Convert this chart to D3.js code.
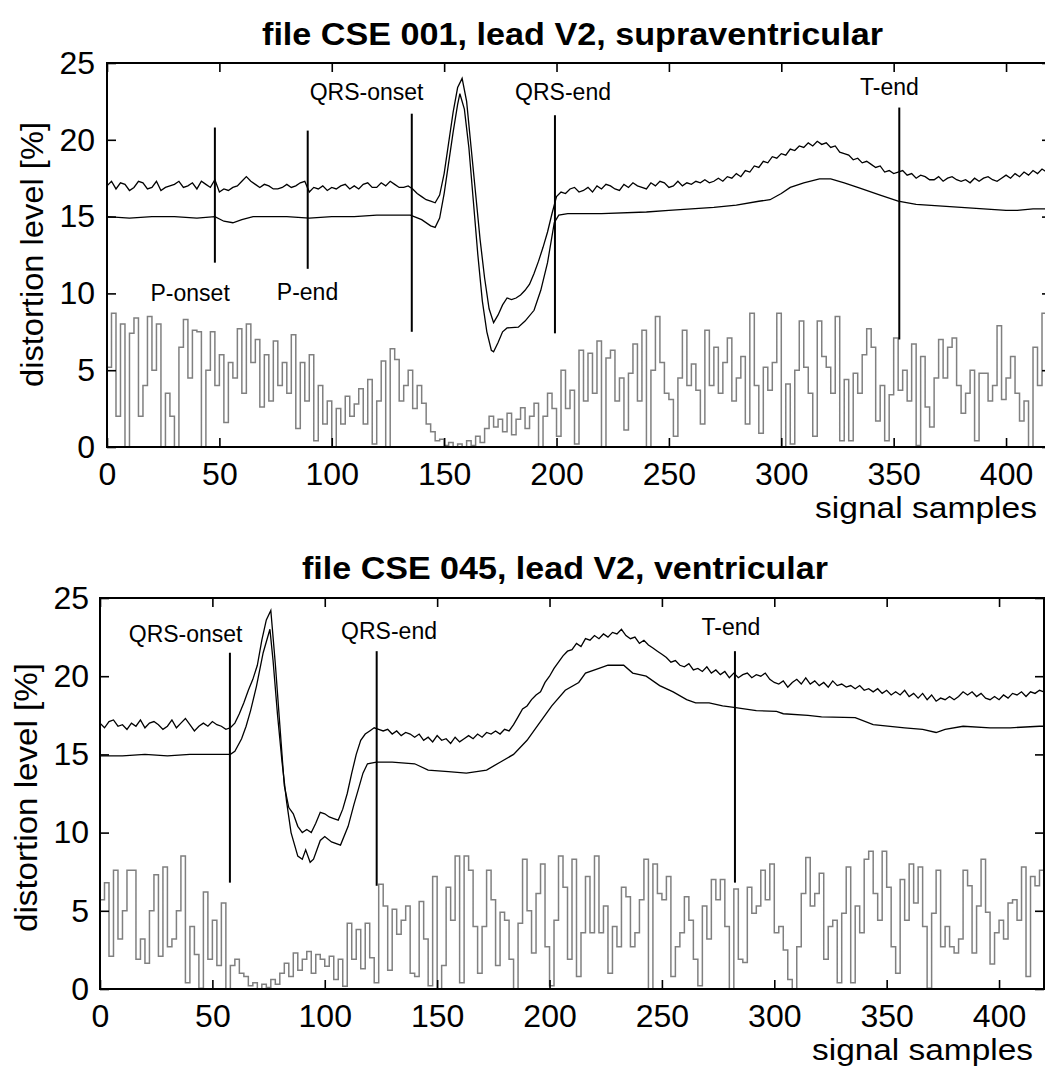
<!DOCTYPE html>
<html>
<head>
<meta charset="utf-8">
<script src="https://cdn.jsdelivr.net/npm/d3@7/dist/d3.min.js"></script>
<style>
  html, body { margin: 0; padding: 0; background: #fff; }
  svg { display: block; }
</style>
</head>
<body>
<div id="chart"></div>
<script>
// samples are read every 2nd signal sample
const STEP = 2;
const X_TICKS = [0, 50, 100, 150, 200, 250, 300, 350, 400];
const Y_TICKS = [0, 5, 10, 15, 20, 25];

// ---- file CSE 001 ----
const upper1 = [
  17.0,17.3,16.8,17.2,17.1,16.7,16.9,17.3,17.2,16.8,
  16.9,17.3,16.7,16.9,17.0,17.1,17.3,16.9,17.0,17.2,
  16.8,17.3,17.1,16.9,17.4,16.6,16.8,16.7,16.9,17.0,
  17.3,17.6,17.3,17.1,16.9,17.1,17.0,16.8,16.8,16.9,
  17.1,16.9,17.0,17.2,17.3,16.6,16.9,16.8,17.0,16.7,
  16.9,16.8,17.0,17.1,16.8,17.0,16.8,17.1,17.2,16.9,
  16.9,17.2,17.0,17.3,17.1,16.9,16.9,17.0,16.8,16.5,
  16.3,16.1,16.0,15.9,16.4,17.8,19.8,21.8,23.4,24.0,
  22.5,19.5,16.5,13.5,11.0,9.0,8.1,8.6,9.25,9.7,
  9.6,9.7,9.9,10.2,10.6,11.3,12.1,13.0,14.0,15.2,
  16.3,16.6,16.5,16.8,16.9,16.6,16.7,16.9,16.6,17.0,
  16.8,17.1,17.0,16.8,16.7,17.1,16.9,17.2,17.0,16.9,
  16.8,17.2,17.0,17.3,17.2,16.9,17.0,17.3,17.0,17.2,
  17.1,17.3,17.2,17.4,17.2,17.3,17.5,17.3,17.6,17.5,
  17.8,17.6,18.0,17.9,18.3,18.2,18.6,18.5,18.9,18.8,
  19.1,19.0,19.4,19.3,19.6,19.5,19.8,19.6,19.9,19.7,
  19.8,19.5,19.6,19.2,19.1,19.0,18.7,18.8,18.5,18.6,
  18.4,18.2,18.3,17.9,18.0,17.8,17.9,18.0,17.7,17.8,
  17.5,17.7,17.6,17.4,17.4,17.6,17.3,17.5,17.6,17.4,
  17.3,17.4,17.2,17.5,17.3,17.5,17.6,17.4,17.3,17.5,
  17.7,17.5,17.8,17.6,17.9,17.7,18.0,17.8,18.1,17.9,
  18.0
];
// smooth curve: [sample, value]
const lower1 = [
  [0,15.0],[10,14.9],[20,15.0],[30,15.0],[40,14.9],[48,15.0],[52,14.7],[56,14.6],[60,14.8],
  [65,15.0],[80,15.0],[90,14.9],[100,15.0],[110,15.0],[120,15.1],[135,15.1],[140,14.8],
  [144,14.4],[146,14.3],[148,14.9],[150,16.5],[152,18.5],[154,20.5],[156,22.3],[157,23.0],
  [159,22.0],[161,19.5],[163,16.0],[165,12.5],[167,9.5],[169,7.5],[171,6.3],[172,6.2],
  [174,6.8],[176,7.5],[178,7.75],[183,7.8],[186,8.2],[190,8.9],[193,10.2],[196,12.0],
  [199,14.6],[201,15.1],[205,15.2],[220,15.2],[240,15.3],[250,15.4],[260,15.5],[270,15.6],
  [280,15.75],[290,16.0],[295,16.1],[300,16.5],[304,16.9],[310,17.2],[317,17.45],[322,17.45],
  [328,17.2],[334,16.9],[344,16.4],[352,16.0],[360,15.8],[370,15.7],[380,15.6],[390,15.5],
  [400,15.4],[405,15.4],[412,15.5],[420,15.5]
];
const noise1 = [
  5.2,8.7,2.0,8.0,0.0,7.4,8.4,2.0,4.0,8.5,
  5.0,8.0,0.0,3.5,2.0,0.0,6.5,8.3,4.5,7.6,
  7.5,0.0,5.0,7.5,4.0,6.0,1.6,5.5,4.5,7.7,
  3.5,8.0,5.5,7.0,2.6,6.0,3.0,6.9,4.0,5.5,
  3.5,7.3,1.2,5.5,3.0,6.0,0.4,4.0,1.5,3.0,
  0.0,2.5,1.5,3.3,2.0,2.8,3.8,1.5,4.4,0.2,
  3.0,5.6,0.0,6.4,5.7,3.0,4.0,5.0,2.5,4.0,
  2.85,1.5,1.0,0.4,0.5,0.1,0.3,0.0,0.2,0.0,
  0.4,0.1,0.7,0.3,1.2,2.0,1.3,1.8,1.0,2.2,
  0.8,1.8,2.55,1.2,2.0,2.85,0.0,2.0,3.5,2.5,
  0.7,5.0,2.5,3.7,0.2,6.3,3.0,6.1,3.5,6.9,
  0.0,5.8,6.3,3.0,4.5,1.1,4.8,6.7,3.0,7.6,
  0.0,5.0,8.5,5.5,3.5,3.1,0.7,4.5,7.6,4.0,
  5.4,3.7,1.5,7.6,4.0,6.5,3.5,5.5,7.1,3.0,
  4.5,5.9,1.5,8.7,4.0,0.9,5.2,3.7,5.5,8.7,
  0.0,4.1,0.2,5.0,8.2,5.2,3.5,0.7,8.2,5.9,
  5.2,3.5,8.5,0.4,4.4,0.4,4.8,3.5,6.0,7.7,
  6.5,1.7,4.0,0.4,3.4,7.1,3.7,5.0,3.0,6.7,
  0.1,5.9,2.6,1.3,4.5,7.0,4.5,6.5,7.1,4.0,
  2.2,3.5,5.0,0.4,4.8,4.8,3.0,4.0,7.9,3.1,
  4.5,5.9,3.5,1.7,3.0,0.0,6.5,4.0,8.7,6.5,
  5.0
];
// markers: sample, line from/to (%), label anchor (sample, %)
const marks1 = [
  { name: "P-onset",   at: 48,    from: 12.0, to: 20.8, lx: 37,    ly: 9.5 },
  { name: "P-end",     at: 89.3,  from: 11.6, to: 20.6, lx: 89.2,  ly: 9.6 },
  { name: "QRS-onset", at: 135.6, from: 7.5,  to: 21.7, lx: 115.5, ly: 22.6 },
  { name: "QRS-end",   at: 199.3, from: 7.4,  to: 21.6, lx: 202.9, ly: 22.6 },
  { name: "T-end",     at: 352.5, from: 7.0,  to: 22.1, lx: 348.1, ly: 22.9 }
];

// ---- file CSE 045 ----
const upper2 = [
  17.0,16.7,17.1,17.2,16.8,16.9,16.6,17.0,16.8,17.2,
  16.7,17.0,17.1,16.9,16.6,16.8,17.2,16.7,17.0,17.3,
  16.9,16.5,16.8,17.0,16.8,17.1,16.9,16.8,16.6,16.7,
  17.0,17.6,18.3,19.1,19.8,20.7,22.3,23.6,24.2,20.8,
  16.9,13.0,11.6,11.2,10.4,10.0,10.2,10.0,10.6,11.3,
  11.2,11.0,10.9,10.8,11.5,12.5,13.8,15.0,15.9,16.3,
  16.5,16.7,16.6,16.5,16.6,16.3,16.5,16.2,16.4,16.3,
  16.1,16.3,15.9,16.1,15.8,16.2,15.9,16.0,15.7,16.1,
  15.8,16.0,16.2,16.0,16.3,16.1,16.4,16.3,16.5,16.3,
  16.6,16.5,16.9,17.4,17.9,18.1,18.5,18.8,19.0,19.6,
  20.0,20.5,20.9,21.3,21.6,21.7,22.1,21.9,22.4,22.3,
  22.6,22.4,22.7,22.5,22.8,22.7,23.0,22.6,22.4,22.5,
  22.1,22.3,22.0,21.8,21.6,21.4,21.2,20.9,21.0,20.7,
  20.6,20.8,20.4,20.5,20.3,20.6,20.2,20.4,20.1,20.3,
  19.9,20.2,19.9,20.1,20.2,19.9,20.1,20.0,20.2,19.8,
  19.6,19.5,19.7,19.3,19.6,19.8,19.5,19.9,19.5,19.7,
  19.4,19.6,19.3,19.7,19.4,19.5,19.3,19.4,19.2,19.4,
  19.1,19.2,19.0,19.2,18.9,19.1,18.8,19.0,18.8,19.1,
  18.7,18.9,18.6,18.9,18.5,18.8,18.4,18.6,18.5,18.7,
  18.5,18.7,19.0,18.8,19.0,18.7,18.9,18.6,18.5,18.7,
  18.5,18.8,18.6,18.9,18.8,19.0,18.7,19.0,18.9,19.1,
  19.0
];
const lower2 = [
  [0,14.9],[10,14.9],[20,15.0],[30,14.9],[40,15.0],[50,15.0],[58,15.0],[60,15.2],[63,16.0],
  [65,16.8],[67,17.8],[69.6,19.35],[72.6,21.5],[75.6,23.0],[77,21.0],[79,17.5],[81,14.5],
  [83,12.0],[85,10.0],[88,8.5],[90,8.3],[91.5,8.9],[93.5,8.1],[95,8.3],[98,9.5],[100,9.75],
  [103,9.4],[107,9.2],[110.4,10.4],[113,11.8],[115,12.8],[117,13.8],[119,14.4],[123,14.5],
  [130,14.5],[140,14.4],[146,14.0],[155,13.9],[163,13.8],[172,14.0],[178,14.5],[184,15.0],
  [190,15.9],[195,16.9],[201,18.1],[207,19.1],[213,19.6],[216,20.2],[222,20.5],[226,20.7],
  [233,20.7],[237,20.2],[243,20.0],[249,19.4],[255,19.0],[261,18.5],[265,18.3],[271,18.3],
  [277,18.1],[282,18.0],[292,17.8],[301,17.75],[304,17.6],[315,17.5],[321,17.4],[336,17.35],
  [344,16.9],[358,16.7],[366,16.6],[372,16.4],[376,16.6],[384,16.8],[396,16.7],[405,16.7],
  [418,16.8],[420,16.8]
];
const noise2 = [
  5.7,6.8,2.1,7.6,3.2,5.0,7.6,7.6,1.9,3.2,
  1.65,5.0,7.3,2.1,7.8,2.7,3.2,5.0,8.5,0.4,
  4.0,2.2,0.05,6.2,1.9,4.4,1.5,5.5,0.0,1.5,
  1.9,1.0,0.8,0.2,0.4,0.0,0.3,0.1,0.6,0.3,
  1.0,1.65,0.8,2.3,1.2,1.9,2.4,1.0,2.2,1.9,
  1.45,2.1,0.6,1.9,0.17,4.2,1.9,3.8,1.3,4.2,
  2.0,0.4,6.7,5.3,1.2,5.1,3.5,4.4,5.3,1.0,
  0.8,5.6,3.2,0.2,7.2,0.0,1.5,6.5,4.4,8.5,
  0.4,8.5,7.6,4.0,1.0,4.0,7.6,5.7,1.5,4.9,
  4.4,1.9,0.0,4.2,8.3,5.0,2.3,6.1,8.0,2.7,
  0.2,4.4,8.5,6.5,1.9,8.3,0.8,3.6,7.2,3.6,
  8.5,3.6,5.3,1.0,4.0,2.7,6.5,5.9,2.7,3.6,
  5.7,8.3,0.0,8.0,6.1,5.7,7.2,0.8,2.7,3.6,
  5.9,4.4,1.9,0.2,5.3,3.2,7.0,5.7,7.0,4.0,
  0.0,6.4,1.9,1.7,6.5,4.85,5.3,7.6,5.7,8.0,
  3.6,4.0,2.5,0.6,0.0,2.7,6.1,8.4,5.3,6.1,
  7.4,1.9,4.0,4.4,0.4,4.85,7.8,0.4,5.3,3.6,
  8.3,8.8,6.1,4.4,8.8,6.5,2.7,1.0,7.0,4.4,
  8.0,5.5,7.8,4.0,0.05,4.85,7.6,2.7,4.0,2.7,
  2.3,3.2,7.6,6.6,2.3,5.3,8.3,4.9,1.6,3.6,
  4.4,3.2,5.5,5.7,4.4,7.8,0.8,7.2,6.6,7.6,
  6.0
];
const marks2 = [
  { name: "QRS-onset", at: 57.8,  from: 6.8, to: 21.5, lx: 38.1,  ly: 22.2 },
  { name: "QRS-end",   at: 123.1, from: 6.6, to: 21.6, lx: 128.6, ly: 22.4 },
  { name: "T-end",     at: 282.5, from: 6.8, to: 21.6, lx: 280.7, ly: 22.65 }
];

const titles = ["file CSE 001, lead V2, supraventricular", "file CSE 045, lead V2, ventricular"];

// layout of the two panels (pixels)
const LAYOUT = [
  { l: 107, r: 1051, t: 63, b: 447, title: [572.5, 45, 621], ylab: [43, 254.5, 265],
    xlab: [1037, 518, 222], yPad: 12, xPad: 15 },
  { l: 100, r: 1044, t: 598, b: 989, title: [565, 579, 526], ylab: [37, 797.5, 269],
    xlab: [1033, 1060, 221], yPad: 11, xPad: 15 }
];

const FONT = "'Liberation Sans', Arial, Helvetica, sans-serif";

const svg = d3.select("#chart").append("svg")
  .attr("width", 1045)
  .attr("height", 1066)
  .style("font-family", FONT);

function drawPanel(idx, upper, lower, noise, marks) {
  const L = LAYOUT[idx];
  const x = d3.scaleLinear().domain([0, 420]).range([L.l, L.r]);
  const y = d3.scaleLinear().domain([0, 25]).range([L.b, L.t]);

  const g = svg.append("g");

  g.append("clipPath").attr("id", "clip" + idx)
    .append("rect")
    .attr("x", L.l).attr("y", L.t - 2)
    .attr("width", L.r - L.l).attr("height", L.b - L.t + 2);

  const plot = g.append("g").attr("clip-path", "url(#clip" + idx + ")");

  const stepLine = d3.line()
    .x(function(d, i) { return x(i * STEP); })
    .y(function(d) { return y(d); });
  const stairs = d3.line()
    .curve(d3.curveStepAfter)
    .x(function(d, i) { return x(i * STEP); })
    .y(function(d) { return y(d); });
  const pairLine = d3.line()
    .x(function(d) { return x(d[0]); })
    .y(function(d) { return y(d[1]); });

  // gray distortion trace, drawn as stairs
  plot.append("path")
    .datum(noise)
    .attr("d", stairs)
    .attr("fill", "none")
    .attr("stroke", "#808080")
    .attr("stroke-width", 1.5);

  plot.append("path")
    .datum(upper)
    .attr("d", stepLine)
    .attr("fill", "none")
    .attr("stroke", "#000")
    .attr("stroke-width", 1.3);

  plot.append("path")
    .datum(lower)
    .attr("d", pairLine)
    .attr("fill", "none")
    .attr("stroke", "#000")
    .attr("stroke-width", 1.3);

  // markers
  plot.selectAll("line.mark")
    .data(marks)
    .enter().append("line")
    .attr("class", "mark")
    .attr("x1", function(d) { return x(d.at); })
    .attr("x2", function(d) { return x(d.at); })
    .attr("y1", function(d) { return y(d.from); })
    .attr("y2", function(d) { return y(d.to); })
    .attr("stroke", "#000")
    .attr("stroke-width", 2);

  g.selectAll("text.mark")
    .data(marks)
    .enter().append("text")
    .attr("class", "mark")
    .attr("x", function(d) { return x(d.lx); })
    .attr("y", function(d) { return y(d.ly); })
    .attr("text-anchor", "middle")
    .attr("font-size", 23)
    .attr("fill", "#000")
    .text(function(d) { return d.name; });

  // axes, ticks inside on all four sides
  const tick = 9;
  const bottom = g.append("g")
    .attr("transform", "translate(0," + L.b + ")")
    .call(d3.axisBottom(x).tickValues(X_TICKS).tickSize(-tick).tickPadding(L.xPad).tickFormat(d3.format("d")));
  const top = g.append("g")
    .attr("transform", "translate(0," + L.t + ")")
    .call(d3.axisTop(x).tickValues(X_TICKS).tickSize(-tick).tickFormat(""));
  const left = g.append("g")
    .attr("transform", "translate(" + L.l + ",0)")
    .call(d3.axisLeft(y).tickValues(Y_TICKS).tickSize(-tick).tickPadding(L.yPad).tickFormat(d3.format("d")));
  const right = g.append("g")
    .attr("transform", "translate(" + L.r + ",0)")
    .call(d3.axisRight(y).tickValues(Y_TICKS).tickSize(-tick).tickFormat(""));

  [bottom, top, left, right].forEach(function(a) {
    a.select(".domain").remove();
    a.attr("font-family", FONT).attr("font-size", 32);
    a.selectAll("line").attr("stroke", "#000").attr("stroke-width", 1.6);
    a.selectAll("text").attr("fill", "#000");
  });

  g.append("rect")
    .attr("x", L.l).attr("y", L.t)
    .attr("width", L.r - L.l).attr("height", L.b - L.t)
    .attr("fill", "none")
    .attr("stroke", "#000")
    .attr("stroke-width", 2);

  // titles and labels
  g.append("text")
    .attr("x", L.title[0]).attr("y", L.title[1])
    .attr("text-anchor", "middle")
    .attr("font-size", 32)
    .attr("font-weight", "bold")
    .attr("textLength", L.title[2])
    .attr("lengthAdjust", "spacingAndGlyphs")
    .text(titles[idx]);

  g.append("text")
    .attr("transform", "translate(" + L.ylab[0] + "," + L.ylab[1] + ") rotate(-90)")
    .attr("text-anchor", "middle")
    .attr("font-size", 32)
    .attr("textLength", L.ylab[2])
    .attr("lengthAdjust", "spacingAndGlyphs")
    .text("distortion level [%]");

  g.append("text")
    .attr("x", L.xlab[0] - L.xlab[2]).attr("y", L.xlab[1])
    .attr("font-size", 29)
    .attr("textLength", L.xlab[2])
    .attr("lengthAdjust", "spacingAndGlyphs")
    .text("signal samples");
}

drawPanel(0, upper1, lower1, noise1, marks1);
drawPanel(1, upper2, lower2, noise2, marks2);
</script>
</body>
</html>
